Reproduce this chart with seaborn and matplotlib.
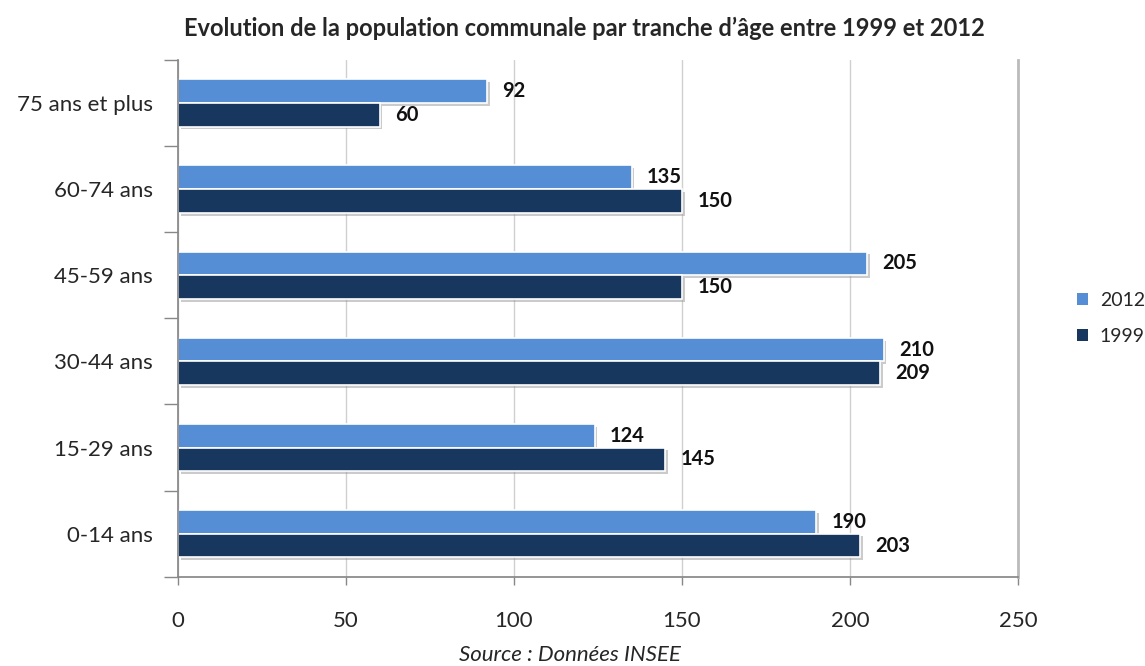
import numpy as np
import pandas as pd
import seaborn as sns
import matplotlib.pyplot as plt
import matplotlib.patheffects as pe
from matplotlib.ticker import FixedLocator

# Data
age_groups = ["75 ans et plus", "60-74 ans", "45-59 ans", "30-44 ans", "15-29 ans", "0-14 ans"]
pop_2012 = [92, 135, 205, 210, 124, 190]
pop_1999 = [60, 150, 150, 209, 145, 203]
years = ["2012", "1999"]

df = pd.DataFrame({
    "age": age_groups * 2,
    "year": ["2012"] * len(age_groups) + ["1999"] * len(age_groups),
    "pop": pop_2012 + pop_1999,
})

sns.set_theme(style="white")
plt.rcParams['font.family'] = ['Lato', 'DejaVu Sans']

fig = plt.figure(figsize=(11.45, 6.66), dpi=100)
ax = fig.add_axes([0.1555, 0.134, 0.7335, 0.776])

palette = {"2012": "#558ED5", "1999": "#17375E"}
sns.barplot(data=df, x="pop", y="age", hue="year", order=age_groups, hue_order=years,
            palette=palette, orient="h", width=0.55, edgecolor="white", linewidth=1.2,
            saturation=1, ax=ax, legend=True)

shadow = [pe.SimplePatchShadow(offset=(2, -2), shadow_rgbFace="#999999", alpha=0.5), pe.Normal()]
for bar in ax.patches:
    bar.set_path_effects(shadow)

for cont in ax.containers:
    ax.bar_label(cont, padding=11, fontsize=14.5, fontweight="bold", color="#111111")

ax.set_xlim(0, 250)
ax.set_ylim(5.5, -0.5)
ax.set_xticks([0, 50, 100, 150, 200, 250])
ax.xaxis.grid(True, color="#d0d0d0", linewidth=1)
ax.set_axisbelow(True)
ax.set_xlabel("")
ax.set_ylabel("")

ax.tick_params(axis="x", direction="out", length=6, width=1, color="#888888",
               pad=19, labelsize=16, bottom=True)
ax.tick_params(axis="y", which="major", length=0, pad=18, labelsize=16)
ax.yaxis.set_minor_locator(FixedLocator(np.arange(-0.5, 6, 1)))
ax.tick_params(axis="y", which="minor", direction="out", length=10, width=1,
               color="#888888", left=True)

ax.spines["top"].set_visible(False)
ax.spines["left"].set_color("#888888")
ax.spines["bottom"].set_color("#888888")
ax.spines["right"].set_color("#bbbbbb")
ax.spines["right"].set_linewidth(2)
ax.spines["right"].set_path_effects([pe.SimplePatchShadow(offset=(2, 0), alpha=0.3), pe.Normal()])

leg = ax.legend(loc="center left", bbox_to_anchor=(1.05, 0.5), frameon=False,
                fontsize=14, handlelength=0.55, handleheight=0.55, labelspacing=1.0,
                handletextpad=0.6)
for h in leg.legend_handles:
    h.set_path_effects([])
    h.set_edgecolor("none")

fig.text(0.51, 0.958, "Evolution de la population communale par tranche d\u2019âge entre 1999 et 2012",
         ha="center", va="center", fontsize=17, fontweight="bold")
fig.text(0.498, 0.0165, "Source : Données INSEE", ha="center", va="center",
         fontsize=16, style="italic")

fig.savefig("out.png", dpi=100)
